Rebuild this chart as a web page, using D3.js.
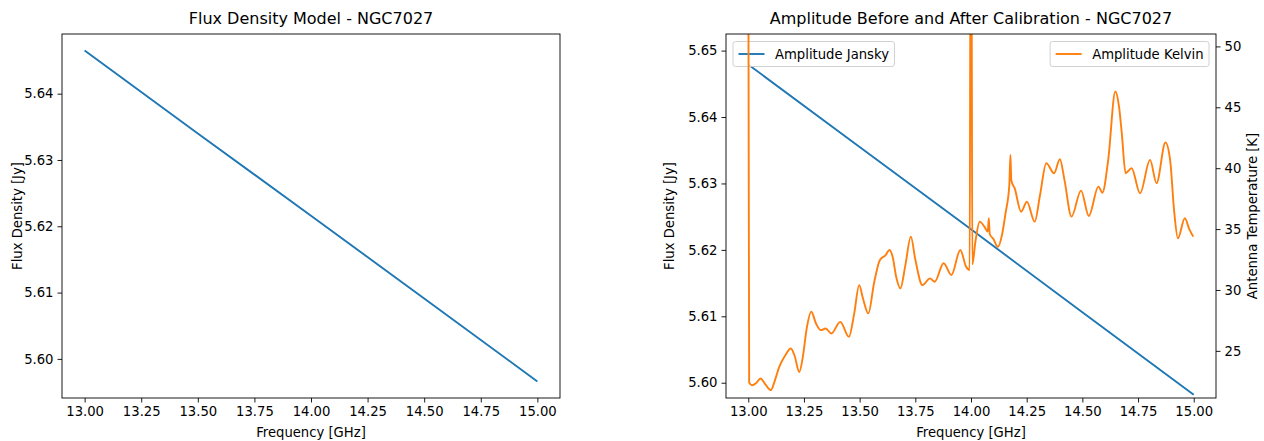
<!DOCTYPE html>
<html><head><meta charset="utf-8">
<script src="https://cdn.jsdelivr.net/npm/d3@7"></script>
<style>
body{margin:0;background:#fff}
text{font-family:"DejaVu Sans",sans-serif;fill:#000}
</style>
</head><body><svg id="c" width="1264" height="441"></svg>
<script>
// ---------- data ----------
const modelFreq = [13.0, 13.5, 14.0, 14.5, 15.0];
const modelFlux = [5.6465, 5.6340, 5.6216, 5.6091, 5.5966];

const janskyFreq = [13.0, 13.5, 14.0, 14.5, 15.0];
const janskyFlux = [5.6479, 5.6355, 5.6231, 5.6106, 5.5982];

const kelvinFreq = [13.000,13.004,13.017,13.035,13.055,13.075,13.101,13.120,13.139,13.165,13.191,13.208,13.229,13.245,13.262,13.283,13.304,13.326,13.347,13.373,13.413,13.452,13.475,13.498,13.515,13.539,13.565,13.591,13.617,13.634,13.648,13.665,13.683,13.705,13.730,13.750,13.782,13.816,13.837,13.877,13.912,13.952,13.978,13.994,13.998,14.002,14.006,14.020,14.039,14.060,14.075,14.080,14.084,14.100,14.121,14.140,14.155,14.172,14.177,14.181,14.196,14.225,14.251,14.286,14.310,14.338,14.373,14.399,14.420,14.451,14.494,14.529,14.572,14.590,14.616,14.648,14.665,14.677,14.694,14.721,14.759,14.804,14.833,14.873,14.894,14.912,14.929,14.960,14.980,14.998];
const kelvinTemp = [60,22.4,22.18,22.35,22.73,22.3,21.77,22.6,23.68,24.6,25.20,24.6,23.27,24.5,26.8,28.21,27.25,26.70,26.84,26.43,27.38,26.15,28.0,30.40,29.3,28.08,30.6,32.46,32.87,33.28,32.73,31.0,30.13,32.0,34.38,32.5,30.40,30.95,30.67,32.19,31.23,33.28,31.91,31.64,60,60,32.1,34.0,35.61,35.20,34.8,35.9,34.6,34.2,33.55,34.6,36.30,38.6,41.09,39.0,38.36,36.43,37.25,35.61,37.8,40.41,39.59,40.74,39.0,36.02,38.16,36.08,38.49,37.99,40.68,46.30,45.0,42.88,39.59,40.00,37.94,40.68,38.77,42.11,40.68,36.5,34.24,35.89,35.0,34.38];

const freqTicks = [13.0, 13.25, 13.5, 13.75, 14.0, 14.25, 14.5, 14.75, 15.0];
const fluxTicksModel = [5.60, 5.61, 5.62, 5.63, 5.64];
const fluxTicksCal = [5.60, 5.61, 5.62, 5.63, 5.64, 5.65];
const tempTicks = [25, 30, 35, 40, 45, 50];

const titles = ["Flux Density Model - NGC7027", "Amplitude Before and After Calibration - NGC7027"];
const xLabel = "Frequency [GHz]";
const yLabelFlux = "Flux Density [Jy]";
const yLabelTemp = "Antenna Temperature [K]";
const legendNames = ["Amplitude Jansky", "Amplitude Kelvin"];

// ---------- layout ----------
const svg = d3.select("#c");
const BLUE = "#1f77b4", ORANGE = "#ff7f0e";
const FS = 13.2, TFS = 16;
const P1 = {x0: 62, x1: 560, y0: 34, y1: 398};
const P2 = {x0: 726, x1: 1216, y0: 34, y1: 398};

function styleAxis(g){
  g.select(".domain").remove();
  g.selectAll(".tick line").attr("stroke","#000").attr("stroke-width",0.9);
  g.selectAll(".tick text").attr("font-size",FS).attr("font-family","DejaVu Sans").attr("fill","#000");
}

function frame(P){
  svg.append("rect").attr("x",P.x0).attr("y",P.y0).attr("width",P.x1-P.x0).attr("height",P.y1-P.y0)
    .attr("fill","none").attr("stroke","#000").attr("stroke-width",0.9);
}

function clip(id,P){
  svg.append("clipPath").attr("id",id).append("rect")
    .attr("x",P.x0).attr("y",P.y0).attr("width",P.x1-P.x0).attr("height",P.y1-P.y0);
}

function texts(P, title, ylab, ylabX){
  const cx=(P.x0+P.x1)/2;
  svg.append("text").attr("x",cx).attr("y",24).attr("text-anchor","middle").attr("font-size",TFS).text(title);
  svg.append("text").attr("x",cx).attr("y",436.5).attr("text-anchor","middle").attr("font-size",FS).text(xLabel);
  svg.append("text").attr("transform",`translate(${ylabX},${(P.y0+P.y1)/2}) rotate(-90)`)
    .attr("text-anchor","middle").attr("font-size",FS).text(ylab);
}

function legend(P, name, color, side){
  const g = svg.append("g");
  const t = g.append("text").attr("font-size",FS).text(name);
  const tw = t.node().getComputedTextLength();
  const pad=5.5, hl=26, hp=10.5;
  const w = pad+hl+hp+tw+pad, h = 25;
  const x = side==="left" ? P.x0+7 : P.x1-7-w;
  const y = P.y0+7.5;
  g.insert("rect","text").attr("x",x).attr("y",y).attr("width",w).attr("height",h).attr("rx",2.5)
    .attr("fill","#fff").attr("fill-opacity",0.8).attr("stroke","#ccc").attr("stroke-width",0.9);
  g.append("line").attr("x1",x+pad).attr("x2",x+pad+hl).attr("y1",y+h/2).attr("y2",y+h/2)
    .attr("stroke",color).attr("stroke-width",1.9);
  t.attr("x",x+pad+hl+hp).attr("y",y+h/2+4.7);
}

// ---------- left plot ----------
{
  const x = d3.scaleLinear().domain([12.9, 15.1]).range([P1.x0, P1.x1]);
  const y = d3.scaleLinear().domain([5.5941, 5.6490]).range([P1.y1, P1.y0]);
  clip("c1",P1);
  const data = modelFreq.map((f,i)=>[f, modelFlux[i]]);
  svg.append("path").datum(data).attr("clip-path","url(#c1)")
    .attr("fill","none").attr("stroke",BLUE).attr("stroke-width",1.9)
    .attr("d", d3.line().x(d=>x(d[0])).y(d=>y(d[1])));
  frame(P1);
  svg.append("g").attr("transform",`translate(0,${P1.y1})`)
    .call(d3.axisBottom(x).tickValues(freqTicks).tickFormat(d3.format(".2f")).tickSize(4.5).tickPadding(4).tickSizeOuter(0))
    .call(styleAxis);
  svg.append("g").attr("transform",`translate(${P1.x0},0)`)
    .call(d3.axisLeft(y).tickValues(fluxTicksModel).tickFormat(d3.format(".2f")).tickSize(4.5).tickPadding(4).tickSizeOuter(0))
    .call(styleAxis);
  texts(P1, titles[0], yLabelFlux, 22);
}

// ---------- right plot ----------
{
  const x = d3.scaleLinear().domain([12.9, 15.1]).range([P2.x0, P2.x1]);
  const y1 = d3.scaleLinear().domain([5.5977, 5.6525]).range([P2.y1, P2.y0]);
  const y2 = d3.scaleLinear().domain([21.13, 51.02]).range([P2.y1, P2.y0]);
  clip("c2",P2);
  const jd = janskyFreq.map((f,i)=>[f, janskyFlux[i]]);
  svg.append("path").datum(jd).attr("clip-path","url(#c2)")
    .attr("fill","none").attr("stroke",BLUE).attr("stroke-width",1.9)
    .attr("d", d3.line().x(d=>x(d[0])).y(d=>y1(d[1])));
  legend(P2, legendNames[0], BLUE, "left");
  const kd = kelvinFreq.map((f,i)=>[f, kelvinTemp[i]]);
  svg.append("path").datum(kd).attr("clip-path","url(#c2)")
    .attr("fill","none").attr("stroke",ORANGE).attr("stroke-width",1.9).attr("stroke-linejoin","round")
    .attr("d", d3.line().curve(d3.curveMonotoneX).x(d=>x(d[0])).y(d=>y2(d[1])));
  legend(P2, legendNames[1], ORANGE, "right");
  frame(P2);
  svg.append("g").attr("transform",`translate(0,${P2.y1})`)
    .call(d3.axisBottom(x).tickValues(freqTicks).tickFormat(d3.format(".2f")).tickSize(4.5).tickPadding(4).tickSizeOuter(0))
    .call(styleAxis);
  svg.append("g").attr("transform",`translate(${P2.x0},0)`)
    .call(d3.axisLeft(y1).tickValues(fluxTicksCal).tickFormat(d3.format(".2f")).tickSize(4.5).tickPadding(4).tickSizeOuter(0))
    .call(styleAxis);
  svg.append("g").attr("transform",`translate(${P2.x1},0)`)
    .call(d3.axisRight(y2).tickValues(tempTicks).tickFormat(d3.format("d")).tickSize(4.5).tickPadding(4).tickSizeOuter(0))
    .call(styleAxis);
  texts(P2, titles[1], yLabelFlux, 674);
  svg.append("text").attr("transform",`translate(1257,${(P2.y0+P2.y1)/2}) rotate(-90)`)
    .attr("text-anchor","middle").attr("font-size",FS).text(yLabelTemp);
}
</script>
</body></html>
